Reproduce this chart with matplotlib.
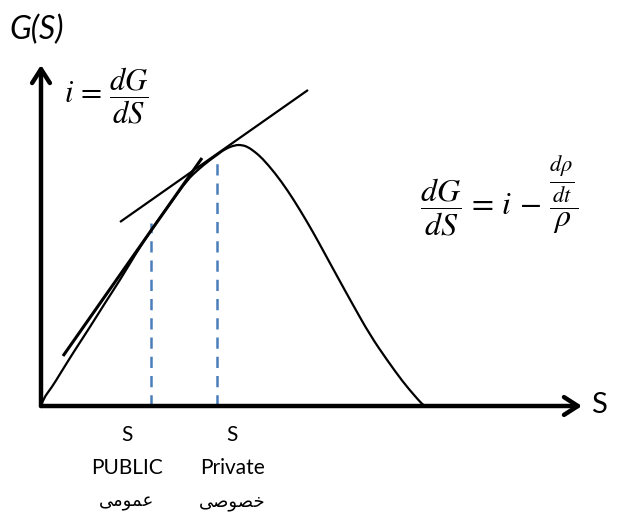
import matplotlib
matplotlib.use("Agg")
import matplotlib.pyplot as plt
from matplotlib.path import Path
from matplotlib.patches import PathPatch

plt.rcParams["mathtext.fontset"] = "stix"

# Growth curve G(S), in drawing units (x to the right, y downward)
curve_x = [41, 43, 52, 60, 73, 90, 105, 120, 135, 151, 170, 187, 200, 210,
           217, 225, 235, 242, 248, 255, 262, 275, 288, 300, 313, 325, 337,
           353, 370, 387, 403, 414, 422, 425]
curve_y = [406, 399, 387, 374, 353, 327, 303, 280, 255, 230, 204, 180, 168,
           160, 155, 149, 145, 145, 147, 152, 158, 173, 191, 210, 232, 254,
           276, 305, 335, 360, 382, 395, 404, 406]

# Tangent lines (slope i) at the two stock levels
tangent_public_x = [63, 202]
tangent_public_y = [356, 158]
tangent_private_x = [120, 308]
tangent_private_y = [222, 90]

# Stock levels and the curve height above each
stock_x = [151, 217]
stock_top = [223, 156]
axis_origin = (41, 406)
axis_tip_y = (41, 65)
axis_tip_x = (582, 406)

stock_names = ["PUBLIC", "Private"]
stock_names_fa = ["عمومی", "خصوصی"]
stock_label_x = [127, 232]

# Minimal Persian shaping: (isolated, final, initial, medial) forms
FORMS = {
    "ع": ("\uFEC9", "\uFECA", "\uFECB", "\uFECC"),
    "م": ("\uFEE1", "\uFEE2", "\uFEE3", "\uFEE4"),
    "و": ("\uFEED", "\uFEEE", "\uFEED", "\uFEEE"),
    "ی": ("\uFEEF", "\uFEF0", "\uFEF3", "\uFEF4"),
    "خ": ("\uFEA5", "\uFEA6", "\uFEA7", "\uFEA8"),
    "ص": ("\uFEB9", "\uFEBA", "\uFEBB", "\uFEBC"),
}
RIGHT_ONLY = {"و"}


def shape_fa(text):
    out = []
    n = len(text)
    for k, ch in enumerate(text):
        prev_joins = k > 0 and text[k - 1] not in RIGHT_ONLY
        next_joins = k < n - 1 and ch not in RIGHT_ONLY
        iso, fin, ini, med = FORMS[ch]
        if prev_joins and next_joins:
            out.append(med)
        elif prev_joins:
            out.append(fin)
        elif next_joins:
            out.append(ini)
        else:
            out.append(iso)
    return "".join(reversed(out))


def smooth_path(xs, ys):
    """Quadratic B-spline path using the given points as control points."""
    pts = list(zip(xs, ys))
    verts = [pts[0]]
    codes = [Path.MOVETO]
    for k in range(1, len(pts) - 1):
        mid = ((pts[k][0] + pts[k + 1][0]) / 2, (pts[k][1] + pts[k + 1][1]) / 2)
        verts += [pts[k], mid]
        codes += [Path.CURVE3, Path.CURVE3]
    verts.append(pts[-1])
    codes.append(Path.LINETO)
    return Path(verts, codes)


fig = plt.figure(figsize=(6.2, 5.16), dpi=100)
ax = fig.add_axes([0, 0, 1, 1])
ax.set_xlim(0, 620)
ax.set_ylim(516, 0)
ax.axis("off")

# Axes with arrow heads
arrow_style = dict(arrowstyle="->,head_length=0.5,head_width=0.32", lw=3.2,
                   color="black", shrinkA=0, shrinkB=0, mutation_scale=20)
ax.annotate("", xy=axis_tip_y, xytext=axis_origin, arrowprops=arrow_style)
ax.annotate("", xy=axis_tip_x, xytext=axis_origin, arrowprops=arrow_style)

# Curve and tangents
ax.add_patch(PathPatch(smooth_path(curve_x, curve_y), facecolor="none",
                       edgecolor="black", lw=1.6, zorder=3))
ax.plot(tangent_public_x, tangent_public_y, color="black", lw=2.2,
        solid_capstyle="butt", zorder=3)
ax.plot(tangent_private_x, tangent_private_y, color="black", lw=1.6,
        solid_capstyle="butt", zorder=3)

# Dashed verticals at the stock levels
for x, top in zip(stock_x, stock_top):
    ax.plot([x, x], [axis_origin[1], top], color="#4A7EBB", lw=1.8,
            dashes=(4.5, 3.2), zorder=2)

# Labels
latin = ["Lato", "DejaVu Sans"]
ax.text(9, 30, "G(S)", fontsize=23, style="italic", family=latin,
        ha="left", va="center")
ax.text(599, 405, "S", fontsize=21, family=latin, ha="center", va="center")
ax.text(64, 96, r"$i\,=\,\dfrac{dG}{dS}$", fontsize=22, ha="left",
        va="center")
ax.text(420, 196,
        r"$\dfrac{dG}{dS}\,=\,i\,-\,\dfrac{\frac{d\rho}{dt}}{\rho}$",
        fontsize=23, ha="left", va="center")

for lx, name, fa in zip(stock_label_x, stock_names, stock_names_fa):
    ax.text(lx, 435, "S", fontsize=15, family=latin, ha="center", va="center")
    ax.text(lx, 468, name, fontsize=15, family=latin, ha="center",
            va="center")
    ax.text(lx, 502, shape_fa(fa), fontsize=13, family="DejaVu Sans",
            ha="center", va="center")

fig.savefig("out.png", dpi=100)
